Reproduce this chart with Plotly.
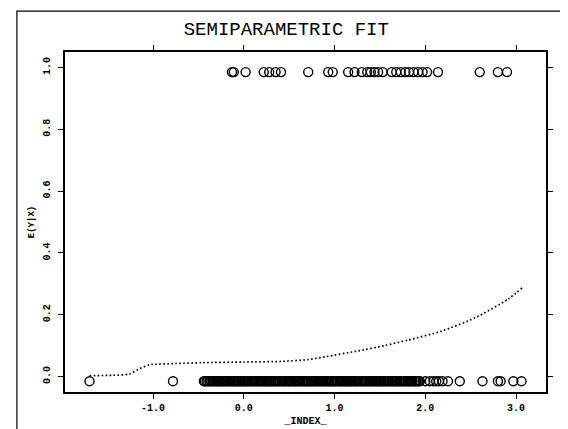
import plotly.graph_objects as go

# ---- data ----
top_x = [-0.13, -0.11, 0.02, 0.22, 0.28, 0.35, 0.41, 0.71, 0.93, 0.98,
         1.15, 1.22, 1.30, 1.36, 1.40, 1.44, 1.48, 1.53, 1.63, 1.68,
         1.73, 1.78, 1.82, 1.87, 1.92, 1.97, 2.02, 2.14, 2.60, 2.80, 2.90]
top_y_value = 0.985

bottom_x = [-1.70, -0.78,
            -0.44, -0.43, -0.41, -0.40, -0.38, -0.37, -0.36, -0.34, -0.33, -0.31,
            -0.30, -0.29, -0.27, -0.26, -0.25, -0.23, -0.22, -0.21,
            -0.19, -0.18, -0.17, -0.15, -0.14, -0.12, -0.11,
            -0.10, -0.08, -0.07, -0.06, -0.04, -0.03, -0.01,
            0.00, 0.01, 0.03, 0.04, 0.05, 0.07, 0.08,
            0.10, 0.11, 0.12, 0.14, 0.15, 0.17, 0.18, 0.19,
            0.21, 0.22, 0.24, 0.25, 0.26, 0.28, 0.29,
            0.30, 0.32, 0.33, 0.35, 0.36, 0.37, 0.39,
            0.40, 0.42, 0.43, 0.44, 0.46, 0.47, 0.49,
            0.50, 0.51, 0.53, 0.54, 0.56, 0.57, 0.58,
            0.60, 0.61, 0.62, 0.64, 0.65, 0.67, 0.68, 0.69,
            0.71, 0.72, 0.74, 0.75, 0.76, 0.78, 0.79,
            0.80, 0.82, 0.83, 0.85, 0.86, 0.87, 0.89,
            0.90, 0.92, 0.93, 0.94, 0.96, 0.97, 0.99,
            1.00, 1.01, 1.03, 1.04, 1.06, 1.07, 1.08,
            1.10, 1.11, 1.13, 1.14, 1.15, 1.17, 1.18, 1.19,
            1.21, 1.22, 1.24, 1.25, 1.26, 1.28, 1.29,
            1.31, 1.32, 1.33, 1.35, 1.36, 1.38, 1.39,
            1.40, 1.42, 1.43, 1.45, 1.46, 1.47, 1.49,
            1.50, 1.51, 1.53, 1.54, 1.56, 1.57, 1.58,
            1.60, 1.61, 1.63, 1.64, 1.65, 1.67, 1.68, 1.69,
            1.71, 1.72, 1.74, 1.75, 1.76, 1.78, 1.79,
            1.81, 1.82, 1.83, 1.85, 1.86, 1.88, 1.89,
            1.90, 1.92, 1.93, 1.94,
            2.00, 2.05, 2.09, 2.12, 2.15, 2.19, 2.25, 2.38, 2.63, 2.80,
            2.83, 2.97, 3.06]
bottom_y_value = -0.015

curve_x = [-1.70, -1.45, -1.26, -1.15, -1.04, -0.75, -0.46, 0.00, 0.42, 0.71,
           0.90, 1.26, 1.55, 1.81, 2.18, 2.55, 2.91, 3.08]
curve_y = [0.003, 0.004, 0.008, 0.025, 0.038, 0.042, 0.045, 0.047, 0.049, 0.055,
           0.064, 0.083, 0.100, 0.118, 0.147, 0.190, 0.250, 0.290]

x_ticks = [-1.0, 0.0, 1.0, 2.0, 3.0]
x_tick_labels = ["-1.0", "0.0", "1.0", "2.0", "3.0"]
y_ticks = [0.0, 0.2, 0.4, 0.6, 0.8, 1.0]
y_tick_labels = ["0.0", "0.2", "0.4", "0.6", "0.8", "1.0"]

FONT = "Liberation Mono"

fig = go.Figure()
fig.add_trace(go.Scatter(
    x=top_x, y=[top_y_value] * len(top_x), mode="markers",
    marker=dict(symbol="circle-open", size=9, color="black", line=dict(width=1.4)),
    showlegend=False))
fig.add_trace(go.Scatter(
    x=bottom_x, y=[bottom_y_value] * len(bottom_x), mode="markers",
    marker=dict(symbol="circle-open", size=9, color="black", line=dict(width=1.4)),
    showlegend=False))
fig.add_trace(go.Scatter(
    x=curve_x, y=curve_y, mode="lines",
    line=dict(color="black", width=1.7, dash="1.6px,2.4px", shape="spline", smoothing=0.6),
    showlegend=False))

axis_common = dict(
    showline=True, linecolor="black", linewidth=1.6, mirror="ticks",
    ticks="outside", ticklen=5, tickwidth=1.4, tickcolor="black",
    showgrid=False, zeroline=False,
    tickfont=dict(family=FONT, size=10, color="black", weight="bold"),
)

fig.update_xaxes(range=[-1.97, 3.33], tickvals=x_ticks, ticktext=x_tick_labels,
                 title=dict(text="_INDEX_", font=dict(family=FONT, size=10, color="black", weight="bold"),
                            standoff=4),
                 **axis_common)
fig.update_yaxes(range=[-0.05, 1.05], tickvals=y_ticks, ticktext=y_tick_labels,
                 tickangle=-90, ticklabelstandoff=4,
                 title=dict(text="E(Y|X)", font=dict(family=FONT, size=9, color="black", weight="bold"),
                            standoff=6),
                 **axis_common)

fig.update_layout(
    width=568, height=429,
    margin=dict(l=57, r=30, t=44, b=41),
    paper_bgcolor="white", plot_bgcolor="white",
    title=dict(text="SEMIPARAMETRIC FIT", x=0.49, xanchor="center", y=0.953, yanchor="middle",
               xref="container", yref="container",
               font=dict(family=FONT, size=19, color="black")),
    shapes=[dict(type="rect", xref="paper", yref="paper",
                 x0=-0.1, x1=1.056, y0=-0.114, y1=1.12,
                 line=dict(color="black", width=1.2))],
)

fig.write_html("out.html")
